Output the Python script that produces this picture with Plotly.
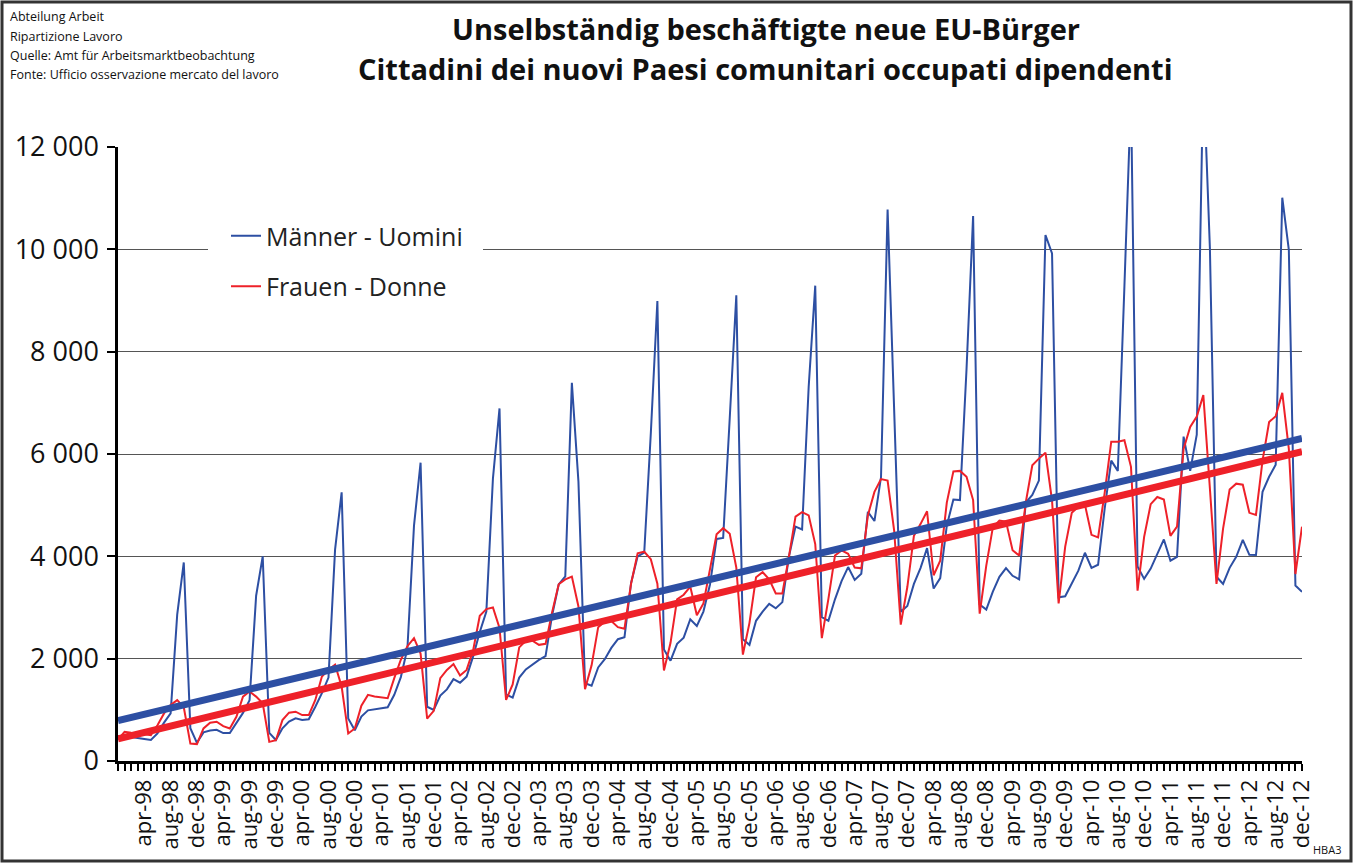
import plotly.graph_objects as go

# ---------------- data ----------------
years = ["98", "99", "00", "01", "02", "03", "04", "05", "06", "07", "08", "09", "10", "11", "12"]
month_names = ["jan", "feb", "mar", "apr", "may", "jun", "jul", "aug", "sep", "oct", "nov", "dec"]
categories = ["dec-97"] + [f"{m}-{y}" for y in years for m in month_names]

tick_labels = [
    "apr-98", "aug-98", "dec-98", "apr-99", "aug-99", "dec-99", "apr-00", "aug-00", "dec-00",
    "apr-01", "aug-01", "dec-01", "apr-02", "aug-02", "dec-02", "apr-03", "aug-03", "dec-03",
    "apr-04", "aug-04", "dec-04", "apr-05", "aug-05", "dec-05", "apr-06", "aug-06", "dec-06",
    "apr-07", "aug-07", "dec-07", "apr-08", "aug-08", "dec-08", "apr-09", "aug-09", "dec-09",
    "apr-10", "aug-10", "dec-10", "apr-11", "aug-11", "dec-11", "apr-12", "aug-12", "dec-12",
]

men = [
    490,
    470, 470, 455, 430, 410, 540, 750, 930, 2860, 3880, 640, 355,
    560, 595, 610, 545, 545, 740, 940, 1190, 3230, 4000, 550, 410,
    640, 770, 835, 800, 815, 1060, 1325, 1630, 4130, 5250, 830, 600,
    870, 990, 1010, 1035, 1050, 1295, 1640, 2200, 4600, 5830, 1060, 1000,
    1280, 1400, 1600, 1530, 1650, 2050, 2520, 2920, 5520, 6890, 1300, 1240,
    1630, 1790, 1890, 1975, 2050, 2850, 3450, 3610, 7390, 5460, 1520, 1470,
    1830, 1990, 2210, 2380, 2420, 3480, 4000, 4070, 6400, 8990, 2180, 1960,
    2290, 2410, 2770, 2640, 2920, 3450, 4340, 4360, 6700, 9100, 2380, 2270,
    2740, 2920, 3070, 2985, 3105, 3995, 4580, 4525, 7310, 9290, 2810, 2740,
    3160, 3515, 3790, 3540, 3660, 4870, 4690, 5550, 10780, 6960, 2915, 3030,
    3460, 3770, 4160, 3370, 3575, 4600, 5110, 5100, 7660, 10650, 3060, 2960,
    3310, 3600, 3770, 3620, 3550, 5050, 5200, 5480, 10280, 9920, 3200, 3220,
    3460, 3720, 4070, 3775, 3835, 4930, 5870, 5670, 9270, 13000, 3800, 3560,
    3760, 4030, 4330, 3915, 3990, 6340, 5670, 6380, 13500, 10010, 3600, 3460,
    3775, 3990, 4320, 4030, 4025, 5260, 5555, 5790, 11010, 9990, 3430, 3305,
]

women = [
    420,
    570, 550, 540, 525, 505, 700, 930, 1095, 1190, 1050, 340, 330,
    636, 748, 767, 682, 636, 865, 1259, 1357, 1259, 1128, 374, 406,
    800, 944, 964, 898, 898, 1193, 1652, 1783, 1882, 1456, 538, 636,
    1082, 1292, 1259, 1246, 1226, 1620, 1980, 2243, 2400, 2100, 830, 980,
    1620, 1780, 1895, 1670, 1780, 2170, 2840, 2970, 3000, 2600, 1195, 1495,
    2220, 2350, 2350, 2270, 2290, 2910, 3455, 3550, 3605, 3020, 1405, 1870,
    2615, 2720, 2735, 2615, 2585, 3465, 4060, 4090, 3945, 3465, 1770, 2310,
    3160, 3250, 3410, 2850, 3080, 3750, 4430, 4550, 4440, 3780, 2080, 2700,
    3590, 3690, 3550, 3275, 3275, 3995, 4775, 4865, 4800, 4240, 2400, 3170,
    4015, 4115, 4050, 3780, 3765, 4800, 5260, 5510, 5480, 4500, 2665, 3400,
    4400, 4630, 4880, 3630, 3915, 5050, 5660, 5670, 5555, 5100, 2880, 3820,
    4565, 4700, 4680, 4120, 4015, 5050, 5780, 5910, 6025, 5090, 3080, 4190,
    4850, 4970, 5010, 4420, 4370, 5240, 6240, 6240, 6270, 5750, 3330, 4380,
    5020, 5160, 5110, 4400, 4580, 6100, 6530, 6730, 7150, 5320, 3460, 4540,
    5305, 5420, 5400, 4850, 4810, 5870, 6625, 6740, 7195, 6100, 3655, 4580,
]

# linear trend lines: value at first and last month
trend_men = [790, 6305]
trend_women = [433, 6045]

y_ticks = [0, 2000, 4000, 6000, 8000, 10000, 12000]
y_tick_labels = ["0", "2 000", "4 000", "6 000", "8 000", "10 000", "12 000"]

series_names = ["Männer - Uomini", "Frauen - Donne"]

# ---------------- styling / layout ----------------
BLUE = "#2D4FA3"
RED = "#EE2129"
FONT = "Open Sans"

W, H = 1355, 863
L, R, T, B = 118, 1302, 147, 761


def px(x):
    return (x - L) / (R - L)


def py(y):
    return (B - y) / (B - T)


fig = go.Figure()
fig.add_trace(go.Scatter(x=categories, y=men, mode="lines", name=series_names[0],
                         line=dict(color=BLUE, width=2), legendgroup="m"))
fig.add_trace(go.Scatter(x=categories, y=women, mode="lines", name=series_names[1],
                         line=dict(color=RED, width=2), legendgroup="w"))
fig.add_trace(go.Scatter(x=[categories[0], categories[-1]], y=trend_men, mode="lines",
                         line=dict(color=BLUE, width=7), showlegend=False, hoverinfo="skip"))
fig.add_trace(go.Scatter(x=[categories[0], categories[-1]], y=trend_women, mode="lines",
                         line=dict(color=RED, width=7), showlegend=False, hoverinfo="skip"))

ticktext = [c if c in tick_labels else "" for c in categories]

fig.update_xaxes(
    type="category", categoryorder="array", categoryarray=categories,
    range=[0, len(categories) - 1],
    tickmode="array", tickvals=categories, ticktext=ticktext,
    tickangle=-90, ticks="outside", ticklen=7, tickwidth=1.5, tickcolor="black",
    showline=True, linecolor="black", linewidth=2.5, showgrid=False, zeroline=False,
    tickfont=dict(family=FONT, size=22, color="#111"),
)
fig.update_yaxes(
    range=[0, 12000], tickmode="array", tickvals=y_ticks, ticktext=y_tick_labels,
    ticks="outside", ticklen=8, tickwidth=1.5, tickcolor="black",
    showline=True, linecolor="black", linewidth=2.5,
    showgrid=True, gridcolor="#555555", gridwidth=1, zeroline=False,
    tickfont=dict(family=FONT, size=27, color="#111"), ticklabelstandoff=3,
)

annotations = []
src_lines = ["Abteilung Arbeit", "Ripartizione Lavoro",
             "Quelle: Amt für Arbeitsmarktbeobachtung",
             "Fonte: Ufficio osservazione mercato del lavoro"]
for txt, yy in zip(src_lines, [17, 37, 56, 75]):
    annotations.append(dict(text=txt, xref="paper", yref="paper", x=px(8), y=py(yy),
                            xanchor="left", yanchor="middle", showarrow=False,
                            font=dict(family=FONT, size=12.5, color="#111")))
annotations.append(dict(text="<b>Unselbständig beschäftigte neue EU-Bürger</b>",
                        xref="paper", yref="paper", x=px(766), y=py(29),
                        xanchor="center", yanchor="middle", showarrow=False,
                        font=dict(family=FONT, size=29, color="#111")))
annotations.append(dict(text="<b>Cittadini dei nuovi Paesi comunitari occupati dipendenti</b>",
                        xref="paper", yref="paper", x=px(765), y=py(69),
                        xanchor="center", yanchor="middle", showarrow=False,
                        font=dict(family=FONT, size=29, color="#111")))
annotations.append(dict(text="HBA3", xref="paper", yref="paper", x=px(1343), y=py(849),
                        xanchor="right", yanchor="middle", showarrow=False,
                        font=dict(family=FONT, size=11, color="#111")))

fig.update_layout(
    width=W, height=H,
    margin=dict(l=L, r=W - R, t=T, b=H - B, pad=0),
    paper_bgcolor="white", plot_bgcolor="white",
    font=dict(family=FONT, color="#111"),
    showlegend=True,
    legend=dict(x=px(226), y=py(213), xanchor="left", yanchor="top",
                bgcolor="white", borderwidth=0, traceorder="grouped",
                tracegroupgap=15, font=dict(family=FONT, size=25, color="#222")),
    annotations=annotations,
    shapes=[
        # white backing of the legend area (hides the gridline like the reference)
        dict(type="rect", xref="paper", yref="paper", layer="above",
             x0=px(208), x1=px(483), y0=py(318), y1=py(214),
             line=dict(width=0), fillcolor="white"),
        # outer frame
        dict(type="rect", xref="paper", yref="paper",
             x0=px(2), x1=px(1351), y0=py(861), y1=py(2),
             line=dict(color="#333333", width=3), fillcolor="rgba(0,0,0,0)"),
    ],
)

fig.write_html("out.html", config={"displayModeBar": False},
               post_script="document.body.style.margin='0';document.body.style.overflow='hidden';")
